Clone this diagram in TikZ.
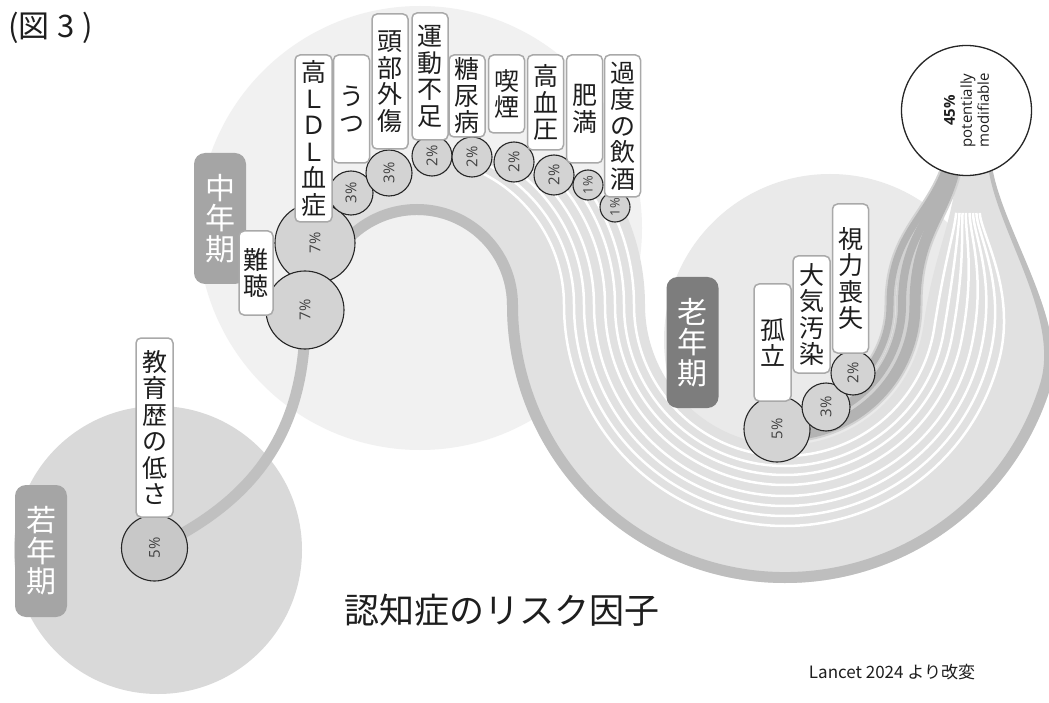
\documentclass[tikz,border=0pt]{standalone}
\usepackage{fontspec}
\setmainfont{Noto Sans CJK JP}
\newfontfamily\latinfont{Open Sans}
\usetikzlibrary{calc}

\definecolor{youngc}{HTML}{D9D9D9}
\definecolor{midc}{HTML}{F1F1F1}
\definecolor{oldc}{HTML}{EAEAEA}
\definecolor{streamc}{HTML}{E1E1E1}
\definecolor{darkc}{HTML}{BEBEBE}
\definecolor{latec}{HTML}{B3B3B3}
\definecolor{lateunder}{HTML}{D2D2D2}
\definecolor{educ}{HTML}{C0C0C0}
\definecolor{bubc}{HTML}{D3D3D3}
\definecolor{bubyc}{HTML}{C8C8C8}
\definecolor{boxedge}{HTML}{A9A9A9}
\definecolor{agec}{HTML}{A5A5A5}
\definecolor{oldlab}{HTML}{7D7D7D}
\definecolor{txt}{HTML}{1E1E1E}

\tikzset{
  lbl/.style={draw=boxedge, line width=1.5, fill=white, rounded corners=5,
    minimum width=36, inner sep=0, align=center, text=txt,
    font=\fontsize{25}{26.5}\selectfont},
  age/.style={fill=agec, rounded corners=11, minimum width=52, inner sep=0,
    align=center, text=white, font=\fontsize{30}{30.5}\selectfont},
  bub/.style={circle, draw=black!85, line width=1.1, fill=bubc, inner sep=0,
    rotate=90, text=black!75, font=\latinfont\fontsize{15}{16}\selectfont},
  edu/.style={draw=educ, line width=11},
  late/.style={draw=latec},
}

% mid-life strand: #1 = radius around C1, #2 = start angle, #3 = options
\newcommand\MidStrand[3]{%
  \pgfmathsetmacro\msR{368-#1}%
  \pgfmathsetmacro\msF{(\msR-140)/138}%
  \pgfmathsetmacro\msT{8+10*\msF}%
  \pgfmathsetmacro\msA{\msT-90}%
  \pgfmathsetmacro\msN{958+34*\msF}%
  \pgfmathsetmacro\msD{-8+18*\msF}%
  \draw[#3] ($(C1)+(#2:#1)$) arc[start angle=#2, end angle=360, radius=#1]
    arc[start angle=180, end angle=\msT, radius=\msR]
    .. controls +(\msA:70) and +(\msD,65) .. (\msN,168);
}
% late-life strand: #1 radius around C2, #2 start angle, #3 neck x, #4 control dx, #5 options
\newcommand\LateStrand[5]{%
  \draw[#5] ($(C2)+(#2:#1)$) arc[start angle=#2, end angle=0, radius=#1]
    .. controls +(-90:70) and +(#4,50) .. (#3,168);
}

\begin{document}
\begin{tikzpicture}[x=1pt, y=-1pt]
\useasboundingbox (0,0) rectangle (1049,703);
\fill[white] (0,0) rectangle (1049,703);

\coordinate (C1) at (417,305);
\coordinate (C2) at (785,305);
\coordinate (pEdu) at (154.5,548);
\coordinate (pHear) at (305,310);
\coordinate (pLDL) at (315,243);
\coordinate (pDep) at (351,193);
\coordinate (pTBI) at (389,173);
\coordinate (pInact) at (432,156);
\coordinate (pDiab) at (472,157);
\coordinate (pSmoke) at (514,162);
\coordinate (pHyp) at (554,175);
\coordinate (pObes) at (588,185);
\coordinate (pAlc) at (615,207);
\coordinate (pIso) at (777,429);
\coordinate (pAir) at (826,407);
\coordinate (pVis) at (853,373);

% life-stage circles
\fill[midc] (420,228) circle[radius=222];
\fill[youngc] (158,550) circle[radius=144];
\fill[oldc] (830,340) circle[radius=166];

% early-life strand
\draw[edu] (pEdu) .. controls (245,505) and (308,440) .. (pHear);

% mid-life stream
\fill[streamc] ($(C1)+(211:90)$) arc[start angle=211, end angle=360, radius=90]
  arc[start angle=180, end angle=18, radius=278]
  .. controls +(-72:70) and +(10,65) .. (992,168)
  -- (958,168) .. controls +(-8,65) and +(-82:70) .. ($(C2)+(8:140)$)
  arc[start angle=8, end angle=180, radius=140]
  arc[start angle=360, end angle=334, radius=228]
  -- (pAlc) -- (pObes) -- (pHyp) -- (pSmoke) -- (pDiab) -- (pInact)
  -- (pTBI) -- (pDep) -- (pLDL) -- cycle;
% tapering dark outer strand
\fill[darkc] ($(C1)+(211:90)$) arc[start angle=211, end angle=360, radius=90]
  arc[start angle=180, end angle=18, radius=278]
  .. controls +(-72:70) and +(10,65) .. (992,166)
  -- (988,166) .. controls +(8.6,65) and +(-72.8:70) .. ($(C2)+(17.2:267)$)
  arc[start angle=17.2, end angle=180, radius=267]
  arc[start angle=360, end angle=211, radius=101] -- cycle;
\foreach \r/\a in {147/276, 157/291, 167/299, 177/305, 188/316, 198/320, 207/325, 217/334}{%
  \MidStrand{\r}{\a}{draw=white, line width=2.5, shorten >=45}}

% late-life strands (light underlay, then dark strands)
\LateStrand{130}{94}{955}{-12}{draw=lateunder, line width=15}
\LateStrand{117}{69}{950}{-15}{draw=lateunder, line width=12}
\LateStrand{105}{45}{946}{-18}{draw=lateunder, line width=11}
\LateStrand{130}{94}{955}{-12}{late, line width=11}
\LateStrand{117}{69}{950}{-15}{late, line width=8}
\LateStrand{105}{45}{946}{-18}{late, line width=7}

% life-stage labels
\node[age, minimum height=131] (aMid) at (220,218.5) {中\\年\\期};
\node[age, minimum height=132] (aYoung) at (41,551) {若\\年\\期};
\node[age, fill=oldlab, minimum height=131] (aOld) at (692.5,342.5) {老\\年\\期};

% bubbles
\node[bub, fill=bubyc, minimum size=66] (bEdu) at (pEdu) {5\%};
\node[bub, minimum size=80] (bLDL) at (pLDL) {7\%};
\node[bub, minimum size=78] (bHear) at (pHear) {7\%};
\node[bub, minimum size=44] (bDep) at (pDep) {3\%};
\node[bub, minimum size=46] (bTBI) at (pTBI) {3\%};
\node[bub, minimum size=40] (bInact) at (pInact) {2\%};
\node[bub, minimum size=40] (bDiab) at (pDiab) {2\%};
\node[bub, minimum size=40] (bSmoke) at (pSmoke) {2\%};
\node[bub, minimum size=40] (bHyp) at (pHyp) {2\%};
\node[bub, minimum size=30, font=\latinfont\fontsize{13}{14}\selectfont] (bObes) at (pObes) {1\%};
\node[bub, minimum size=30, font=\latinfont\fontsize{13}{14}\selectfont] (bAlc) at (pAlc) {1\%};
\node[bub, minimum size=66] (bIso) at (pIso) {5\%};
\node[bub, minimum size=48] (bAir) at (pAir) {3\%};
\node[bub, minimum size=44] (bVis) at (pVis) {2\%};

% factor labels
\node[lbl, minimum height=179, minimum width=37] (lEdu) at (154.5,427.5) {教\\育\\歴\\の\\低\\さ};
\node[lbl, minimum height=84, minimum width=34] (lHear) at (256,273) {難\\聴};
\node[lbl, minimum height=167, minimum width=37] (lLDL) at (313.5,138.5) {高\\Ｌ\\Ｄ\\Ｌ\\血\\症};
\node[lbl, minimum height=108] (lDep) at (351.5,109) {う\\つ};
\node[lbl, minimum height=135] (lTBI) at (390,81.5) {頭\\部\\外\\傷};
\node[lbl, minimum height=127] (lInact) at (430,76.5) {運\\動\\不\\足};
\node[lbl, minimum height=82] (lDiab) at (467,96) {糖\\尿\\病};
\node[lbl, minimum height=78] (lSmoke) at (506.5,94) {喫\\煙};
\node[lbl, minimum height=95] (lHyp) at (545.5,102.5) {高\\血\\圧};
\node[lbl, minimum height=108] (lObes) at (584.5,109) {肥\\満};
\node[lbl, minimum height=142] (lAlc) at (622.5,126) {過\\度\\の\\飲\\酒};
\node[lbl, minimum height=149] (lVis) at (850.5,278.5) {視\\力\\喪\\失};
\node[lbl, minimum height=117, minimum width=37] (lAir) at (811.5,314.5) {大\\気\\汚\\染};
\node[lbl, minimum height=117, minimum width=37] (lIso) at (772.5,342.5) {孤\\立};

% total
\node[circle, draw=black!85, line width=1.3, fill=white, minimum size=130,
  inner sep=0, rotate=90, align=center, text=txt,
  font=\latinfont\fontsize{15}{17}\selectfont] (m45) at (966.5,110.5)
  {\textbf{45\%}\\potentially\\modifiable};

% texts
\node[anchor=west, inner sep=0, text=txt, font=\fontsize{31}{33}\selectfont] (fig) at (8,28) {(図\hspace{8pt}3\hspace{8pt})};
\node[inner sep=0, text=txt, font=\fontsize{35}{37}\selectfont] (title) at (502,610) {認知症のリスク因子};
\node[inner sep=0, text=txt, font=\fontsize{17}{19}\selectfont] (src) at (892,672) {Lancet 2024 より改変};
\end{tikzpicture}
\end{document}
